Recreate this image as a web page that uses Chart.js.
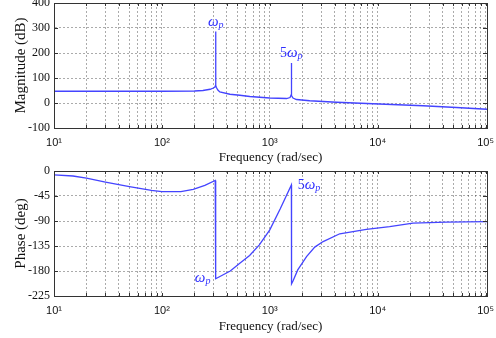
<!DOCTYPE html>
<html>
<head>
<meta charset="utf-8">
<script src="https://cdn.jsdelivr.net/npm/chart.js@4/dist/chart.umd.min.js"></script>
<style>
  html, body { margin: 0; padding: 0; background: #fff; }
  #wrap { position: relative; width: 496px; height: 338px; overflow: hidden; background: #fff; }
  canvas { position: absolute; left: 0; }
  #magCanvas { top: 0; }
  #phaseCanvas { top: 160px; }
</style>
</head>
<body>
<div id="wrap">
  <canvas id="magCanvas" width="496" height="169"></canvas>
  <canvas id="phaseCanvas" width="496" height="178"></canvas>
</div>
<script>
// frequency axis (rad/sec), log scale
const freqDecades = [10, 100, 1000, 10000, 100000];
const freqTickLabels = ['10¹', '10²', '10³', '10⁴', '10⁵'];
const freqMin = 10;
const freqMax = 103000;

// magnitude trace (dB)
const magFreq = [10, 100, 200, 240, 280, 300, 310, 314, 315, 316, 320, 330, 344, 427, 527, 653, 1000, 1430, 1540, 1575, 1580, 1585, 1590, 1600, 1640, 1766, 2344, 4150, 9040, 26300, 53600, 103000];
const magDb = [47, 47, 48, 50, 55, 60, 64, 70, 286, 70, 62, 52, 44, 35, 31, 26, 20, 18, 22, 32, 45, 160, 45, 30, 20, 14, 9, 3, -3, -11, -18, -25];
const magTicks = [-100, 0, 100, 200, 300, 400];

// phase trace (deg)
const phaseFreq = [10, 15, 20, 30, 50, 80, 100, 150, 195, 250, 312, 315, 430, 527, 650, 800, 1000, 1250, 1585, 1590, 1640, 1815, 2190, 2610, 3120, 4450, 7850, 12900, 21200, 43200, 103000];
const phaseDeg = [-7, -9, -13, -20, -28, -35, -37, -37, -33, -26, -17, -194, -180, -166, -152, -133, -106, -68, -25, -203, -198, -178, -154, -137, -127, -113, -105, -100, -94, -92, -91];
const phaseTicks = [-225, -180, -135, -90, -45, 0];

const lineColor = '#4444ff';
const gridColor = 'rgba(0,0,0,0.33)';
const serif = '"Liberation Serif", "Times New Roman", serif';
const sans = '"Liberation Sans", Arial, sans-serif';

// grid lines at 1..9 x each decade
const freqGrid = [];
freqDecades.forEach((d, i) => {
    if (i === freqDecades.length - 1) { freqGrid.push(d); return; }
    for (let k = 1; k <= 9; k++) freqGrid.push(d * k);
});

// box + inward tick marks like the matlab axes
const framePlugin = {
    id: 'frame',
    afterDraw(chart) {
        const {ctx, chartArea: a, scales} = chart;
        ctx.save();
        ctx.strokeStyle = '#333';
        ctx.lineWidth = 1;
        ctx.beginPath();
        scales.x.ticks.forEach(t => {
            const px = Math.round(scales.x.getPixelForValue(t.value)) + 0.5;
            ctx.moveTo(px, a.bottom); ctx.lineTo(px, a.bottom - 3);
            ctx.moveTo(px, a.top); ctx.lineTo(px, a.top + 3);
        });
        scales.y.ticks.forEach(t => {
            const py = Math.round(scales.y.getPixelForValue(t.value)) + 0.5;
            ctx.moveTo(a.left, py); ctx.lineTo(a.left + 4, py);
            ctx.moveTo(a.right, py); ctx.lineTo(a.right - 4, py);
        });
        ctx.stroke();
        ctx.strokeRect(Math.round(a.left) + 0.5, Math.round(a.top) + 0.5, Math.round(a.width), Math.round(a.height));
        ctx.restore();
    }
};

// "ω_p" / "5ω_p" labels
const omegaPlugin = {
    id: 'omegaNotes',
    afterDatasetsDraw(chart, args, opts) {
        const {ctx, scales} = chart;
        ctx.save();
        ctx.fillStyle = '#2f2fff';
        ctx.textBaseline = 'alphabetic';
        (opts.notes || []).forEach(n => {
            let x = scales.x.getPixelForValue(n.freq);
            const y = scales.y.getPixelForValue(n.val);
            if (n.pre) {
                ctx.font = '14px ' + serif;
                ctx.fillText(n.pre, x, y);
                x += ctx.measureText(n.pre).width;
            }
            ctx.font = 'italic 15px ' + serif;
            ctx.fillText('ω', x, y);
            x += ctx.measureText('ω').width;
            ctx.font = 'italic 10px ' + serif;
            ctx.fillText('p', x, y + 2);
        });
        ctx.restore();
    }
};

const makeChart = (canvasId, freq, vals, yTicks, yTitle, notes, padTop, xHeight) => {
    const ctx = document.getElementById(canvasId).getContext('2d');
    return new Chart(ctx, {
        type: 'line',
        data: {
            datasets: [{
                data: freq.map((f, i) => ({x: f, y: vals[i]})),
                borderColor: lineColor,
                borderWidth: 1.3,
                pointRadius: 0,
                fill: false,
                tension: 0
            }]
        },
        options: {
            responsive: false,
            animation: false,
            devicePixelRatio: 1,
            layout: { padding: { top: padTop, right: 9, left: 0, bottom: 0 } },
            plugins: {
                legend: { display: false },
                tooltip: { enabled: false },
                omegaNotes: { notes: notes }
            },
            scales: {
                x: {
                    type: 'logarithmic',
                    min: freqMin,
                    max: freqMax,
                    afterBuildTicks: s => { s.ticks = freqGrid.map(v => ({value: v})); },
                    afterFit: s => { s.height = xHeight; s.paddingLeft = 0; s.paddingRight = 0; },
                    grid: { color: gridColor, lineWidth: 1, drawTicks: false },
                    border: { display: true, color: '#333', dash: [2, 2] },
                    ticks: {
                        autoSkip: false,
                        maxRotation: 0,
                        minRotation: 0,
                        padding: 8,
                        color: '#111',
                        font: { family: sans, size: 11 },
                        callback: v => {
                            const i = freqDecades.indexOf(v);
                            return i >= 0 ? freqTickLabels[i] : '';
                        }
                    },
                    title: {
                        display: true,
                        text: 'Frequency (rad/sec)',
                        color: '#111',
                        font: { family: serif, size: 13 },
                        padding: { top: 0, bottom: 4 }
                    }
                },
                y: {
                    min: yTicks[0],
                    max: yTicks[yTicks.length - 1],
                    afterBuildTicks: s => { s.ticks = yTicks.map(v => ({value: v})); },
                    afterFit: s => { s.width = 54; s.paddingTop = 0; s.paddingBottom = 0; },
                    grid: { color: gridColor, lineWidth: 1, drawTicks: false },
                    border: { display: true, color: '#333', dash: [2, 2] },
                    ticks: {
                        padding: 4,
                        color: '#111',
                        font: { family: serif, size: 12 },
                        callback: v => String(v)
                    },
                    title: {
                        display: true,
                        text: yTitle,
                        color: '#111',
                        font: { family: serif, size: 15 },
                        padding: { top: 12, bottom: 0 }
                    }
                }
            }
        },
        plugins: [framePlugin, omegaPlugin]
    });
};

makeChart('magCanvas', magFreq, magDb, magTicks, 'Magnitude (dB)', [
    { freq: 267, val: 308 },
    { pre: '5', freq: 1240, val: 184 }
], 3, 41);

makeChart('phaseCanvas', phaseFreq, phaseDeg, phaseTicks, 'Phase (deg)', [
    { pre: '5', freq: 1815, val: -33 },
    { freq: 202, val: -200 }
], 11, 42);
</script>
</body>
</html>
